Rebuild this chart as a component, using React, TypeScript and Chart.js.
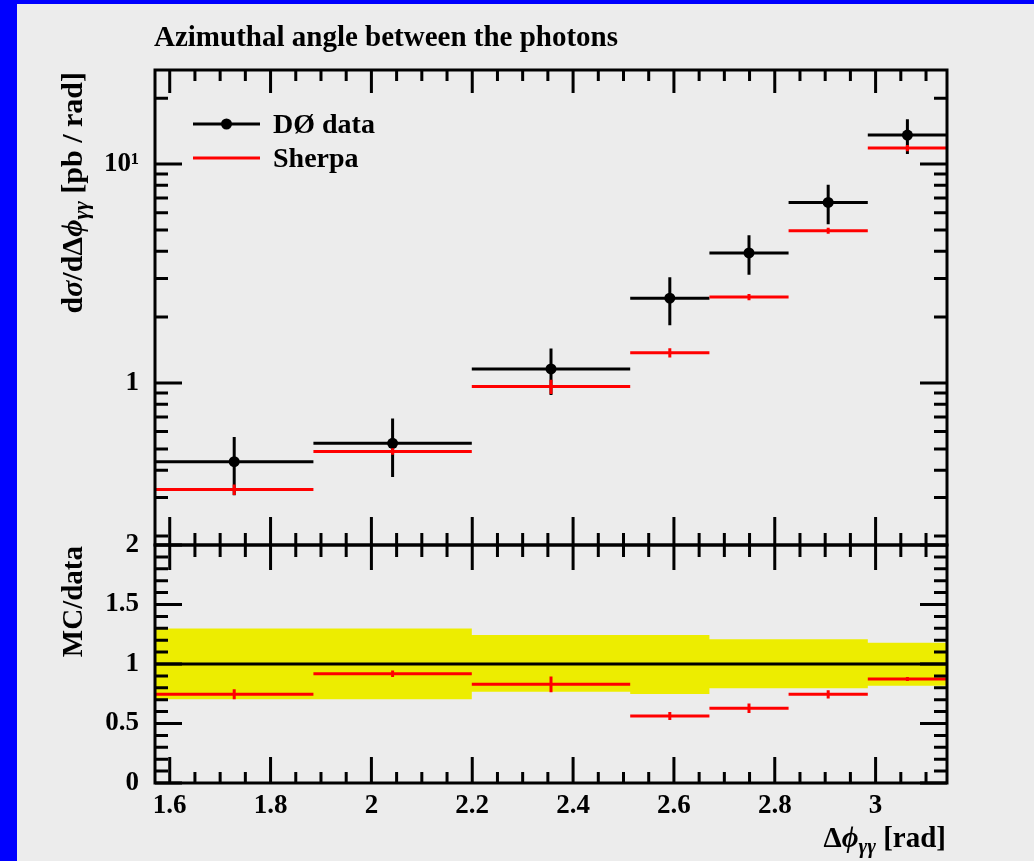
import React, { useEffect, useRef } from 'react';
import { Chart, registerables } from 'chart.js';

Chart.register(...registerables);

// Bin edges in Δφγγ (rad): π × 0.5, 0.6, 0.7, 0.8, 0.85, 0.9, 0.95, 1.0
const binEdges = [1.5708, 1.885, 2.1991, 2.5133, 2.6704, 2.8274, 2.9845, 3.1416];

// DØ measurement, dσ/dΔφγγ [pb/rad], with total uncertainty
const dataValues = [0.437, 0.53, 1.16, 2.44, 3.93, 6.68, 13.57];
const dataErrors = [0.13, 0.158, 0.278, 0.605, 0.806, 1.37, 2.44];

// Sherpa prediction with its statistical uncertainty
const sherpaValues = [0.326, 0.487, 0.963, 1.375, 2.47, 4.96, 11.84];
const sherpaErrors = [0.018, 0.017, 0.073, 0.066, 0.08, 0.16, 0.38];

// MC/data ratio and the data uncertainty band around unity
const ratioValues = [0.745, 0.918, 0.829, 0.563, 0.628, 0.745, 0.874];
const ratioErrors = [0.042, 0.028, 0.067, 0.034, 0.04, 0.034, 0.017];
const bandLow = [0.703, 0.703, 0.767, 0.748, 0.796, 0.796, 0.818];
const bandHigh = [1.298, 1.298, 1.244, 1.244, 1.207, 1.207, 1.179];

// Axis ranges and ticks
const crossSectionRange = [0.182, 26.9];
const ratioRange = [0, 2];
const xMajorTicks = [1.6, 1.8, 2.0, 2.2, 2.4, 2.6, 2.8, 3.0];
const xTickLabels = ['1.6', '1.8', '2', '2.2', '2.4', '2.6', '2.8', '3'];
const xMinorTicks = [1.65, 1.7, 1.75, 1.85, 1.9, 1.95, 2.05, 2.1, 2.15, 2.25, 2.3, 2.35, 2.45, 2.5, 2.55, 2.65, 2.7, 2.75, 2.85, 2.9, 2.95, 3.05, 3.1];
const logMajorTicks = [1, 10];
const logTickLabels = ['1', '10¹'];
const logMinorTicks = [0.2, 0.3, 0.4, 0.5, 0.6, 0.7, 0.8, 0.9, 2, 3, 4, 5, 6, 7, 8, 9, 20];
const ratioMajorTicks = [0, 0.5, 1, 1.5, 2];
const ratioTickLabels = ['0', '0.5', '1', '1.5', '2'];
const ratioMinorTicks = [0.1, 0.2, 0.3, 0.4, 0.6, 0.7, 0.8, 0.9, 1.1, 1.2, 1.3, 1.4, 1.6, 1.7, 1.8, 1.9];

const SERIF = "'Liberation Serif', 'Times New Roman', serif";
const BG = '#ececec';
const RED = '#ff0000';
const YELLOW = '#eded00';

const W = 1017;
const H = 857;

type Pt = { x: number; y: number | null };

const binCenter = (i: number) => (binEdges[i] + binEdges[i + 1]) / 2;

function horizontalBars(values: number[]): Pt[] {
  const pts: Pt[] = [];
  values.forEach((v, i) => {
    pts.push({ x: binEdges[i], y: v }, { x: binEdges[i + 1], y: v }, { x: binEdges[i + 1], y: null });
  });
  return pts;
}

function verticalBars(values: number[], errs: number[]): Pt[] {
  const pts: Pt[] = [];
  values.forEach((v, i) => {
    const c = binCenter(i);
    pts.push({ x: c, y: v - errs[i] }, { x: c, y: v + errs[i] }, { x: c, y: null });
  });
  return pts;
}

function stepEdge(values: number[]): Pt[] {
  const pts: Pt[] = [];
  values.forEach((v, i) => {
    pts.push({ x: binEdges[i], y: v }, { x: binEdges[i + 1], y: v });
  });
  return pts;
}

type Part = { t: string; size: number; italic?: boolean; dy?: number };

function drawRich(ctx: CanvasRenderingContext2D, parts: Part[], xRight: number, y: number) {
  const font = (p: Part) => `${p.italic ? 'italic ' : ''}bold ${p.size}px ${SERIF}`;
  let total = 0;
  parts.forEach((p) => {
    ctx.font = font(p);
    total += ctx.measureText(p.t).width;
  });
  let x = xRight - total;
  ctx.textAlign = 'left';
  ctx.textBaseline = 'alphabetic';
  parts.forEach((p) => {
    ctx.font = font(p);
    ctx.fillText(p.t, x, y + (p.dy || 0));
    x += ctx.measureText(p.t).width;
  });
}

type TickSpec = {
  yMajor: number[];
  yMinor: number[];
  topMajor: number;
  topMinor: number;
  bottomMajor: number;
  bottomMinor: number;
};

function frameTicksPlugin(spec: TickSpec) {
  return {
    id: 'frameTicks',
    afterDatasetsDraw(chart: any) {
      const { ctx, chartArea: a } = chart;
      const xs = chart.scales.x;
      const ys = chart.scales.y;
      ctx.save();
      ctx.strokeStyle = '#000';
      ctx.lineWidth = 3;
      ctx.lineCap = 'butt';
      ctx.beginPath();
      const xTick = (v: number, up: number, down: number) => {
        const px = xs.getPixelForValue(v);
        ctx.moveTo(px, a.bottom);
        ctx.lineTo(px, a.bottom - up);
        ctx.moveTo(px, a.top);
        ctx.lineTo(px, a.top + down);
      };
      xMajorTicks.forEach((v) => xTick(v, spec.bottomMajor, spec.topMajor));
      xMinorTicks.forEach((v) => xTick(v, spec.bottomMinor, spec.topMinor));
      const yTick = (v: number, len: number) => {
        const py = ys.getPixelForValue(v);
        ctx.moveTo(a.left, py);
        ctx.lineTo(a.left + len, py);
        ctx.moveTo(a.right, py);
        ctx.lineTo(a.right - len, py);
      };
      spec.yMajor.forEach((v) => yTick(v, 27));
      spec.yMinor.forEach((v) => yTick(v, 13));
      ctx.stroke();
      ctx.strokeRect(a.left, a.top, a.right - a.left, a.bottom - a.top);
      ctx.restore();
    },
  };
}

const tickFont = { family: SERIF, size: 27, weight: 'bold' as const };

function xScale(display: boolean) {
  return {
    type: 'linear' as const,
    display,
    min: binEdges[0],
    max: binEdges[binEdges.length - 1],
    grid: { display: false, drawTicks: false },
    border: { display: false },
    afterBuildTicks: (s: any) => {
      s.ticks = xMajorTicks.map((v) => ({ value: v }));
    },
    afterFit: (s: any) => {
      if (display) s.height = 78;
    },
    ticks: {
      autoSkip: false,
      maxRotation: 0,
      minRotation: 0,
      padding: 7,
      color: '#000',
      font: tickFont,
      callback: (_v: any, i: number) => xTickLabels[i] ?? '',
    },
  };
}

function yScale(type: 'logarithmic' | 'linear', range: number[], majors: number[], labels: string[]) {
  return {
    type,
    min: range[0],
    max: range[1],
    grid: { display: false, drawTicks: false },
    border: { display: false },
    afterBuildTicks: (s: any) => {
      s.ticks = majors.map((v) => ({ value: v }));
    },
    afterFit: (s: any) => {
      s.width = 138;
    },
    ticks: {
      autoSkip: false,
      padding: 16,
      color: '#000',
      font: tickFont,
      callback: (_v: any, i: number) => labels[i] ?? '',
    },
  };
}

const lineDs = (data: Pt[], color: string, order: number, width = 3) => ({
  data,
  borderColor: color,
  backgroundColor: color,
  borderWidth: width,
  pointRadius: 0,
  spanGaps: false,
  fill: false,
  order,
});

const topTexts = {
  id: 'topTexts',
  afterDraw(chart: any) {
    const { ctx, chartArea: a } = chart;
    ctx.save();
    ctx.fillStyle = '#000';
    // title
    ctx.font = `bold 29px ${SERIF}`;
    ctx.textAlign = 'left';
    ctx.textBaseline = 'alphabetic';
    ctx.fillText('Azimuthal angle between the photons', a.left - 1, a.top - 24);
    // legend
    const lx0 = a.left + 38;
    const lx1 = a.left + 105;
    const ly1 = a.top + 54;
    const ly2 = a.top + 88;
    ctx.lineWidth = 3;
    ctx.strokeStyle = '#000';
    ctx.beginPath();
    ctx.moveTo(lx0, ly1);
    ctx.lineTo(lx1, ly1);
    ctx.stroke();
    ctx.beginPath();
    ctx.arc((lx0 + lx1) / 2, ly1, 5.5, 0, Math.PI * 2);
    ctx.fill();
    ctx.strokeStyle = RED;
    ctx.beginPath();
    ctx.moveTo(lx0, ly2);
    ctx.lineTo(lx1, ly2);
    ctx.stroke();
    ctx.font = `bold 28px ${SERIF}`;
    ctx.fillText('DØ data', a.left + 118, ly1 + 9);
    ctx.fillText('Sherpa', a.left + 118, ly2 + 9);
    // y title, rotated
    ctx.translate(a.left - 73, a.top + 2);
    ctx.rotate(-Math.PI / 2);
    drawRich(
      ctx,
      [
        { t: 'd', size: 30 },
        { t: 'σ', size: 30, italic: true },
        { t: '/d', size: 30 },
        { t: 'Δ', size: 30 },
        { t: 'ϕ', size: 30, italic: true },
        { t: 'γγ', size: 22, italic: true, dy: 6 },
        { t: ' [pb / rad]', size: 30 },
      ],
      0,
      0,
    );
    ctx.restore();
  },
};

const ratioTexts = {
  id: 'ratioTexts',
  afterDraw(chart: any) {
    const { ctx, chartArea: a } = chart;
    ctx.save();
    ctx.fillStyle = '#000';
    drawRich(
      ctx,
      [
        { t: 'Δ', size: 29 },
        { t: 'ϕ', size: 29, italic: true },
        { t: 'γγ', size: 21, italic: true, dy: 6 },
        { t: ' [rad]', size: 29 },
      ],
      a.right - 1,
      a.bottom + 64,
    );
    ctx.translate(a.left - 73, a.top + 1);
    ctx.rotate(-Math.PI / 2);
    drawRich(ctx, [{ t: 'MC/data', size: 29 }], 0, 0);
    ctx.restore();
  },
};

function topConfig(): any {
  return {
    type: 'line',
    data: {
      datasets: [
        lineDs(horizontalBars(sherpaValues), RED, 0),
        lineDs(verticalBars(sherpaValues, sherpaErrors), RED, 0),
        {
          data: dataValues.map((v, i) => ({ x: binCenter(i), y: v })),
          showLine: false,
          pointRadius: 5.5,
          pointBorderWidth: 0,
          pointBackgroundColor: '#000',
          borderColor: '#000',
          order: 1,
        },
        lineDs(horizontalBars(dataValues), '#000', 2),
        lineDs(verticalBars(dataValues, dataErrors), '#000', 2),
      ],
    },
    options: {
      responsive: false,
      animation: false,
      devicePixelRatio: 1,
      events: [],
      layout: { padding: { left: 0, right: W - 930, top: 66, bottom: H - 541 } },
      plugins: { legend: { display: false }, tooltip: { enabled: false }, title: { display: false } },
      scales: {
        x: xScale(false),
        y: yScale('logarithmic', crossSectionRange, logMajorTicks, logTickLabels),
      },
    },
    plugins: [
      frameTicksPlugin({ yMajor: logMajorTicks, yMinor: logMinorTicks, topMajor: 23, topMinor: 11, bottomMajor: 28, bottomMinor: 12 }),
      topTexts,
    ],
  };
}

function ratioConfig(): any {
  const unity = [
    { x: binEdges[0], y: 1 },
    { x: binEdges[binEdges.length - 1], y: 1 },
  ];
  return {
    type: 'line',
    data: {
      datasets: [
        lineDs(horizontalBars(ratioValues), RED, 0),
        lineDs(verticalBars(ratioValues, ratioErrors), RED, 0),
        lineDs(unity, '#000', 1),
        { ...lineDs(stepEdge(bandHigh), YELLOW, 3, 0), fill: '+1', backgroundColor: YELLOW },
        { ...lineDs(stepEdge(bandLow), YELLOW, 4, 0) },
      ],
    },
    options: {
      responsive: false,
      animation: false,
      devicePixelRatio: 1,
      events: [],
      layout: { padding: { left: 0, right: W - 930, top: 541, bottom: 0 } },
      plugins: { legend: { display: false }, tooltip: { enabled: false }, title: { display: false } },
      scales: {
        x: xScale(true),
        y: yScale('linear', ratioRange, ratioMajorTicks, ratioTickLabels),
      },
    },
    plugins: [
      frameTicksPlugin({ yMajor: ratioMajorTicks, yMinor: ratioMinorTicks, topMajor: 25, topMinor: 12, bottomMajor: 26, bottomMinor: 11 }),
      ratioTexts,
    ],
  };
}

export default function App() {
  const topRef = useRef<HTMLCanvasElement>(null);
  const ratioRef = useRef<HTMLCanvasElement>(null);

  useEffect(() => {
    const top = new Chart(topRef.current as HTMLCanvasElement, topConfig());
    const ratio = new Chart(ratioRef.current as HTMLCanvasElement, ratioConfig());
    return () => {
      top.destroy();
      ratio.destroy();
    };
  }, []);

  return (
    <div style={{ position: 'fixed', left: 0, top: 0, width: 1034, height: 861, background: '#0000ff', overflow: 'hidden' }}>
      <div style={{ position: 'absolute', left: 17, top: 4, width: W, height: H, background: BG }}>
        <canvas ref={topRef} width={W} height={H} style={{ position: 'absolute', left: 0, top: 0 }} />
        <canvas ref={ratioRef} width={W} height={H} style={{ position: 'absolute', left: 0, top: 0 }} />
      </div>
    </div>
  );
}
